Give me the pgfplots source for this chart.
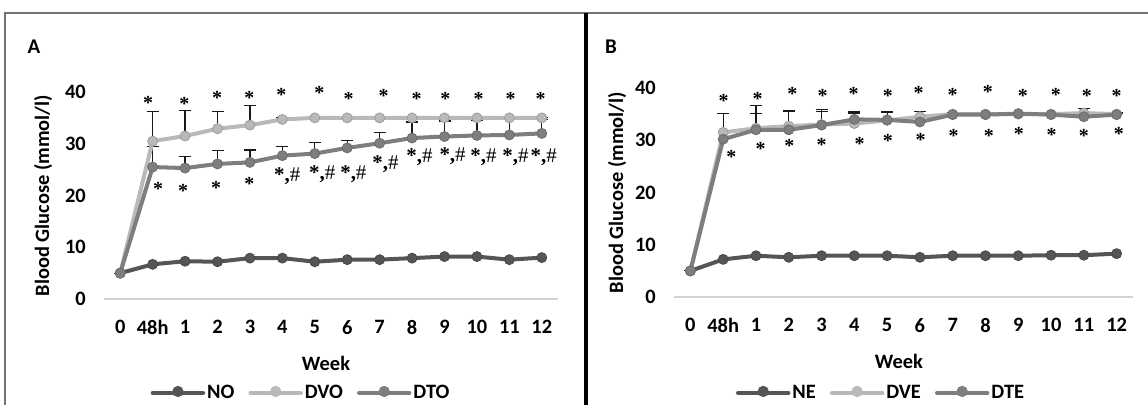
\documentclass[border=0pt]{standalone}
\usepackage{pgfplots}
\usepackage{pgfplotstable}
\pgfplotsset{compat=1.18}
\usepackage{fontspec}
\setmainfont{Carlito}
\newfontfamily\annfont{Liberation Serif}

\definecolor{cNO}{HTML}{555555}
\definecolor{cDVO}{HTML}{B9B9B9}
\definecolor{cDTO}{HTML}{7E7E7E}

\pgfplotstableread{
x  no   dvo   dvoe  dto   dtoe
0  5.0  5.0   0.0   5.0   0.0
1  6.7  30.5  5.7   25.5  3.9
2  7.3  31.5  4.9   25.3  2.2
3  7.2  32.9  3.3   26.1  2.6
4  7.9  33.6  3.8   26.4  2.4
5  7.9  34.7  0.4   27.7  1.8
6  7.2  35.0  0.0   28.1  2.1
7  7.6  35.0  0.0   29.2  1.4
8  7.6  35.0  0.0   30.1  2.1
9  7.9  35.0  0.0   31.1  3.1
10 8.2  35.0  0.0   31.4  3.0
11 8.2  35.0  0.0   31.6  3.0
12 7.6  35.0  0.0   31.7  3.0
13 8.0  35.0  0.0   32.0  2.7
}\tabA

\pgfplotstableread{
x  ne   dve   dvee  dte   dtee
0  5.0  5.0   0.0   5.0   0.0
1  7.2  31.5  3.6   30.2  4.9
2  7.9  32.3  4.4   32.0  3.1
3  7.6  32.7  3.0   32.0  3.5
4  7.9  33.0  2.9   32.9  2.6
5  7.9  33.2  2.0   34.0  1.5
6  7.9  33.8  1.7   33.9  1.4
7  7.6  34.5  1.0   33.5  0.3
8  7.9  35.0  0.3   34.9  0.2
9  7.9  35.0  0.3   34.9  0.2
10 7.9  35.0  0.3   35.1  0.2
11 8.0  35.0  0.3   34.9  0.2
12 8.0  35.2  0.9   34.5  0.2
13 8.3  35.0  0.3   34.9  0.2
}\tabB

\tikzset{
  ann/.style={font=\annfont\fontsize{21}{21}\selectfont, inner sep=0pt, anchor=center, yshift=-1bp},
  annA/.style={font=\annfont\bfseries\fontsize{20}{20}\selectfont, inner sep=0pt, anchor=center, yshift=-4bp},
}
\newcommand\sh{{\bfseries *,}\#}

\pgfplotsset{
  gstyle/.style={
    scale only axis, xmin=-0.5, xmax=13.5, ymin=0, ymax=40,
    axis x line*=bottom, axis y line*=left,
    x axis line style={draw=black!17, line width=1.3bp},
    y axis line style={draw=none},
    xtick={0,1,2,3,4,5,6,7,8,9,10,11,12,13},
    xticklabels={0,48h,1,2,3,4,5,6,7,8,9,10,11,12},
    ytick={0,10,20,30,40},
    major tick length=0pt, tick style={draw=none},
    clip=false,
    /pgf/number format/assume math mode=true,
    ticklabel style={font=\bfseries\fontsize{20.5}{20.5}\selectfont},
    xticklabel style={inner sep=0pt, anchor=north, yshift=-21bp},
    yticklabel style={inner sep=0pt, anchor=east, xshift=-18bp},
    label style={font=\bfseries\fontsize{20.5}{20.5}\selectfont},
    xlabel={Week},
    ylabel={Blood Glucose (mmol/l)},
    legend style={draw=none, fill=none, anchor=center, legend columns=3,
      font=\bfseries\fontsize{20.5}{20.5}\selectfont, inner sep=0pt,
      /tikz/every even column/.append style={column sep=12bp}},
    legend image code/.code={
      \draw[##1, line width=4.5bp, line cap=round, mark=none] (0bp,0bp) -- (50bp,0bp);
      \fill[##1] (25bp,1.5bp) circle (3.5bp);
    },
  },
  ebar/.style={draw=none, mark=none, forget plot,
    error bars/.cd, y dir=plus, y explicit,
    error bar style={draw=black!90, line width=1.2bp},
    error mark options={draw=black!90, rotate=90, mark size=6bp, line width=1.2bp}},
  ser/.style={color=#1, line width=4bp, mark=*, mark size=5bp,
    mark options={fill=#1, draw=#1!85!black, line width=0.8bp}},
}

\begin{document}
\begin{tikzpicture}[x=1bp,y=1bp]
\path[use as bounding box] (0,0) rectangle (1148,405);
\draw[black!55, line width=1.2bp] (5,0) -- (5,392) -- (1148,392);
\draw[black, line width=4.5bp] (586,0) -- (586,392);
\node[font=\bfseries\fontsize{21}{21}\selectfont, inner sep=0pt] at (34,358) {A};
\node[font=\bfseries\fontsize{21}{21}\selectfont, inner sep=0pt] at (611,358) {B};

\begin{axis}[gstyle, at={(104bp,106bp)}, anchor=south west,
  width=454bp, height=207bp,
  xlabel style={at={(axis description cs:0.489,0)}, anchor=center, yshift=-64bp},
  ylabel style={at={(axis description cs:-0.134,0.5)}, anchor=center},
  legend style={at={(axis description cs:0.434,-0.454)}}]
\addplot[ebar] table[x=x, y=dto, y error=dtoe]{\tabA};
\addplot[ebar] table[x=x, y=dvo, y error=dvoe]{\tabA};
\addplot[ser=cNO] table[x=x, y=no]{\tabA};
\addplot[ser=cDVO] table[x=x, y=dvo]{\tabA};
\addplot[ser=cDTO] table[x=x, y=dto]{\tabA};
\legend{NO,DVO,DTO}
% asterisks above DVO
\node[annA] at (axis cs:0.86,38.7) {*};
\node[annA] at (axis cs:1.98,38.4) {*};
\node[annA] at (axis cs:2.99,39.7) {*};
\node[annA] at (axis cs:3.98,39.7) {*};
\node[annA] at (axis cs:4.97,40.2) {*};
\node[annA] at (axis cs:6.14,40.5) {*};
\node[annA] at (axis cs:7.04,39.5) {*};
\node[annA] at (axis cs:8.12,40.0) {*};
\node[annA] at (axis cs:9.14,39.5) {*};
\node[annA] at (axis cs:10.03,39.5) {*};
\node[annA] at (axis cs:11.05,39.5) {*};
\node[annA] at (axis cs:12.04,39.5) {*};
\node[annA] at (axis cs:12.96,39.5) {*};
% below DTO
\node[annA] at (axis cs:1.17,22.0) {*};
\node[annA] at (axis cs:1.94,21.6) {*};
\node[annA] at (axis cs:2.96,22.2) {*};
\node[annA] at (axis cs:3.98,23.0) {*};
\node[ann] at (axis cs:5.15,23.9) {\sh};
\node[ann] at (axis cs:6.23,24.3) {\sh};
\node[ann] at (axis cs:7.19,24.3) {\sh};
\node[ann] at (axis cs:8.18,26.2) {\sh};
\node[ann] at (axis cs:9.23,27.5) {\sh};
\node[ann] at (axis cs:10.25,27.8) {\sh};
\node[ann] at (axis cs:11.2,27.5) {\sh};
\node[ann] at (axis cs:12.19,27.5) {\sh};
\node[ann] at (axis cs:13.06,27.5) {\sh};
\end{axis}

\begin{axis}[gstyle, at={(674bp,108bp)}, anchor=south west,
  width=459bp, height=209bp,
  xlabel style={at={(axis description cs:0.49,0)}, anchor=center, yshift=-64bp},
  ylabel style={at={(axis description cs:-0.124,0.5)}, anchor=center},
  legend style={at={(axis description cs:0.451,-0.459)}}]
\addplot[ebar] table[x=x, y=dte, y error=dtee]{\tabB};
\addplot[ebar] table[x=x, y=dve, y error=dvee]{\tabB};
\addplot[ser=cNO] table[x=x, y=ne]{\tabB};
\addplot[ser=cDVO] table[x=x, y=dve]{\tabB};
\addplot[ser=cDTO] table[x=x, y=dte]{\tabB};
\legend{NE,DVE,DTE}
% above
\node[annA] at (axis cs:1.01,38.3) {*};
\node[annA] at (axis cs:2.05,38.7) {*};
\node[annA] at (axis cs:3.11,39.6) {*};
\node[annA] at (axis cs:4.03,39.2) {*};
\node[annA] at (axis cs:4.98,39.6) {*};
\node[annA] at (axis cs:6.02,39.2) {*};
\node[annA] at (axis cs:6.96,39.8) {*};
\node[annA] at (axis cs:8.0,39.4) {*};
\node[annA] at (axis cs:9.07,40.1) {*};
\node[annA] at (axis cs:10.14,39.3) {*};
\node[annA] at (axis cs:11.15,39.4) {*};
\node[annA] at (axis cs:12.09,39.2) {*};
\node[annA] at (axis cs:13.0,39.2) {*};
% below
\node[annA] at (axis cs:1.25,27.6) {*};
\node[annA] at (axis cs:2.14,29.1) {*};
\node[annA] at (axis cs:3.02,29.7) {*};
\node[annA] at (axis cs:4.0,29.9) {*};
\node[annA] at (axis cs:5.16,30.0) {*};
\node[annA] at (axis cs:6.02,30.6) {*};
\node[annA] at (axis cs:7.02,30.8) {*};
\node[annA] at (axis cs:8.03,31.6) {*};
\node[annA] at (axis cs:9.1,31.5) {*};
\node[annA] at (axis cs:10.02,32.0) {*};
\node[annA] at (axis cs:11.02,31.8) {*};
\node[annA] at (axis cs:12.0,31.5) {*};
\node[annA] at (axis cs:13.07,32.0) {*};
\end{axis}
\end{tikzpicture}
\end{document}
